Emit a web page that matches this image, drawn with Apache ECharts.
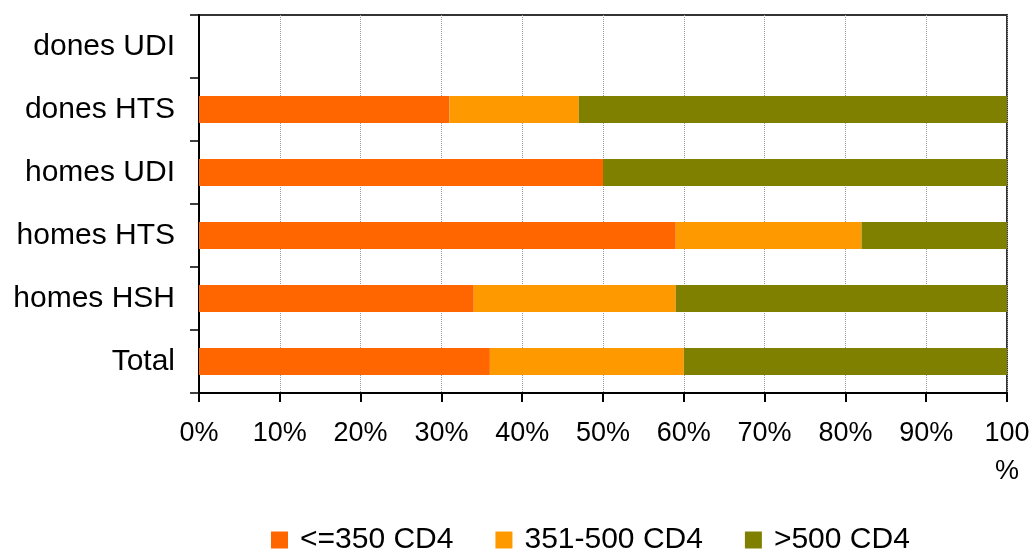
<!DOCTYPE html>
<html>
<head>
<meta charset="utf-8">
<script src="https://cdn.jsdelivr.net/npm/echarts@6/dist/echarts.min.js"></script>
<style>
  html, body { margin: 0; padding: 0; background: #fff; }
  #chart { width: 1033px; height: 552px; }
</style>
</head>
<body>
<div id="chart"></div>
<script>
var categories = ['dones UDI', 'dones HTS', 'homes UDI', 'homes HTS', 'homes HSH', 'Total'];
var low = [null, 31, 50, 59, 34, 36];      // <=350 CD4
var mid = [null, 16, 0, 23, 25, 24];       // 351-500 CD4
var high = [null, 53, 50, 18, 41, 40];     // >500 CD4
var xTicks = [0, 10, 20, 30, 40, 50, 60, 70, 80, 90, 100];

var myChart = echarts.init(document.getElementById('chart'));

var font = '"Liberation Sans", Arial, sans-serif';

myChart.setOption({
    animation: false,
    color: ['#FF6600', '#FF9900', '#808000'],
    grid: {
        left: 199,
        right: 26,
        top: 15,
        bottom: 159,
        show: true,
        borderColor: '#333',
        borderWidth: 2
    },
    legend: {
        top: 520,
        left: 266,
        icon: 'rect',
        itemWidth: 17,
        itemHeight: 17,
        itemGap: 42,
        textStyle: {
            fontFamily: font,
            fontSize: 30,
            color: '#000',
            padding: [0, 0, 0, 7]
        },
        data: ['<=350 CD4', '351-500 CD4', '>500 CD4']
    },
    xAxis: {
        type: 'value',
        min: 0,
        max: 100,
        interval: 10,
        axisLine: { show: true, lineStyle: { color: '#000', width: 2 } },
        axisTick: { show: true, inside: false, length: 9, lineStyle: { color: '#000', width: 2 } },
        splitLine: { show: true, lineStyle: { color: '#999', type: 'dotted', width: 1 } },
        axisLabel: {
            fontFamily: font,
            fontSize: 27,
            color: '#000',
            margin: 22,
            lineHeight: 38,
            formatter: function (v) {
                return xTicks.indexOf(v) >= 0 && v === 100 ? '100\n%' : v + '%';
            }
        }
    },
    yAxis: {
        type: 'category',
        inverse: true,
        data: categories,
        axisLine: { show: true, lineStyle: { color: '#000', width: 2 } },
        axisTick: { show: true, inside: false, length: 9, lineStyle: { color: '#000', width: 1.5 } },
        axisLabel: {
            fontFamily: font,
            fontSize: 30,
            color: '#000',
            margin: 24
        }
    },
    series: [
        { name: '<=350 CD4', type: 'bar', stack: 'all', barWidth: 27, data: low },
        { name: '351-500 CD4', type: 'bar', stack: 'all', barWidth: 27, data: mid },
        { name: '>500 CD4', type: 'bar', stack: 'all', barWidth: 27, data: high }
    ]
});
</script>
</body>
</html>
